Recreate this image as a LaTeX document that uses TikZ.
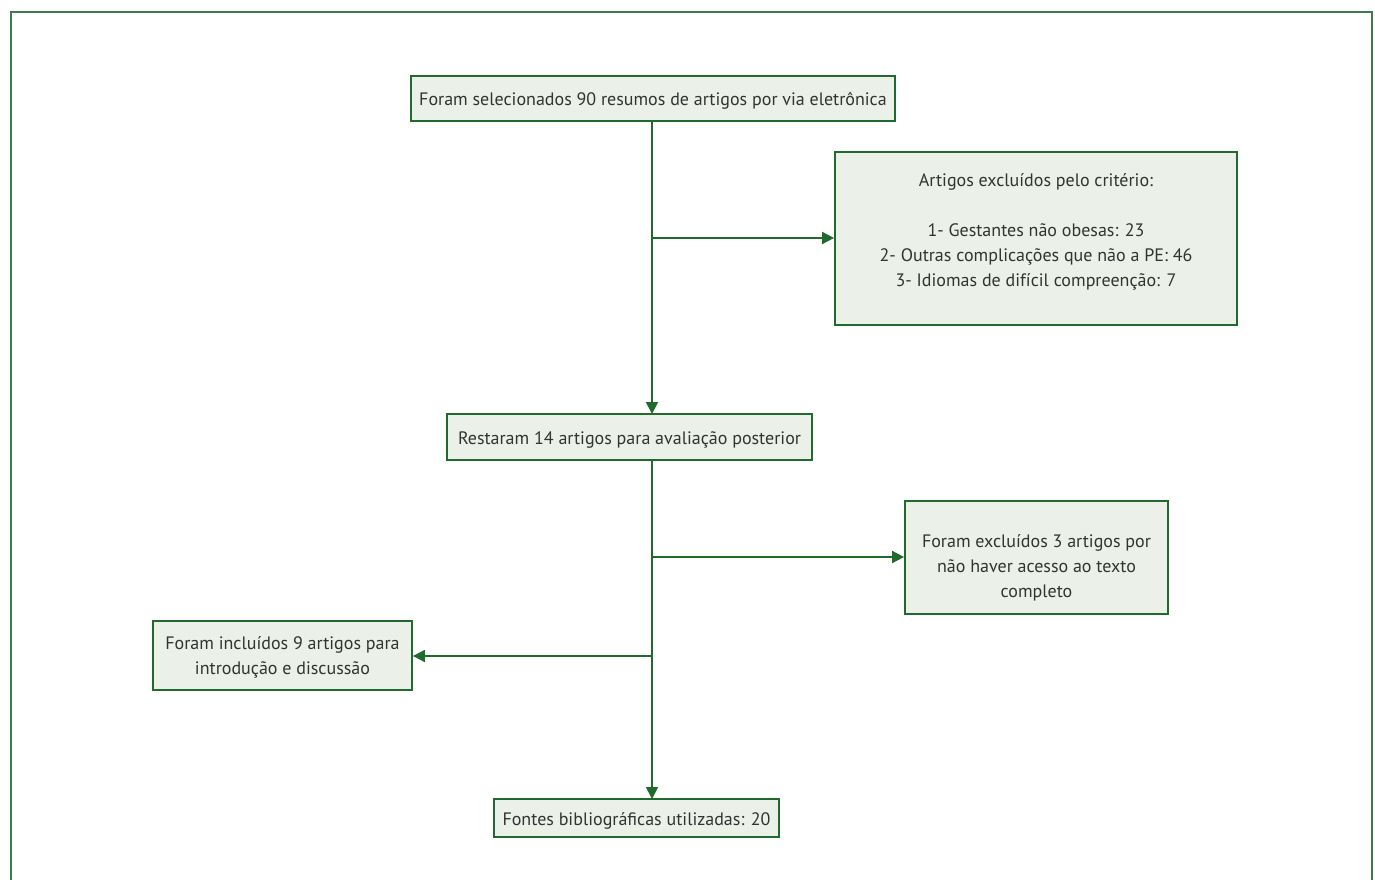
\documentclass[tikz,border=0pt]{standalone}
\usepackage{fontspec}
\setmainfont{PT Sans}
\usetikzlibrary{arrows.meta}
\definecolor{boxline}{HTML}{1F6A2C}
\definecolor{boxfill}{HTML}{EBF0E8}
\definecolor{frame}{HTML}{3F7D48}
\definecolor{txt}{HTML}{333333}
\tikzset{
  box/.style={draw=boxline, fill=boxfill, line width=1.8pt, inner sep=0pt},
  lbl/.style={text=txt, font=\fontsize{18}{25}\selectfont, align=center, inner sep=0pt},
  conn/.style={draw=boxline, line width=1.8pt},
  arr/.style={conn, -{Triangle[length=12pt,width=12pt]}}
}
\begin{document}
\begin{tikzpicture}[x=1pt,y=-1pt]
\useasboundingbox (0,0) rectangle (1375,880);
\draw[frame, line width=1.6pt] (11,885) -- (11,12) -- (1372,12) -- (1372,885);

\node[box, minimum width=484pt, minimum height=45pt] (top) at (653,98.5) {};
\node[lbl] (toptxt) at (653,101) {Foram selecionados 90 resumos de artigos por via eletrônica};

\node[box, minimum width=402pt, minimum height=173pt] (excl) at (1036,238.5) {};
\node[lbl] (excltxt) at (1036,232) {Artigos excluídos pelo critério:\\[25pt]1- Gestantes não obesas: 23\\2- Outras complicações que não a PE: 46\\3- Idiomas de difícil compreenção: 7};

\node[box, minimum width=365pt, minimum height=46pt] (rest) at (629.5,437) {};
\node[lbl] (resttxt) at (629.5,440) {Restaram 14 artigos para avaliação posterior};

\node[box, minimum width=263pt, minimum height=113pt] (ex3) at (1036.5,557.5) {};
\node[lbl] (ex3txt) at (1036.5,568) {Foram excluídos 3 artigos por\\não haver acesso ao texto\\completo};

\node[box, minimum width=259pt, minimum height=69pt] (inc) at (282.5,655.5) {};
\node[lbl] (inctxt) at (282.5,657) {Foram incluídos 9 artigos para\\introdução e discussão};

\node[box, minimum width=285pt, minimum height=38pt] (font) at (636.5,818) {};
\node[lbl] (fonttxt) at (636.5,821) {Fontes bibliográficas utilizadas: 20};

\coordinate (a1) at (652,121);
\coordinate (a2) at (652,414);
\coordinate (b1) at (652,238);
\coordinate (c1) at (652,460);
\coordinate (c2) at (652,799);
\coordinate (d1) at (652,557);
\coordinate (e1) at (652,656);

\draw[arr] (a1) -- (a2);
\draw[arr] (b1) -- (b1 -| excl.west);
\draw[arr] (c1) -- (c2);
\draw[arr] (d1) -- (d1 -| ex3.west);
\draw[arr] (e1) -- (e1 -| inc.east);
\end{tikzpicture}
\end{document}
